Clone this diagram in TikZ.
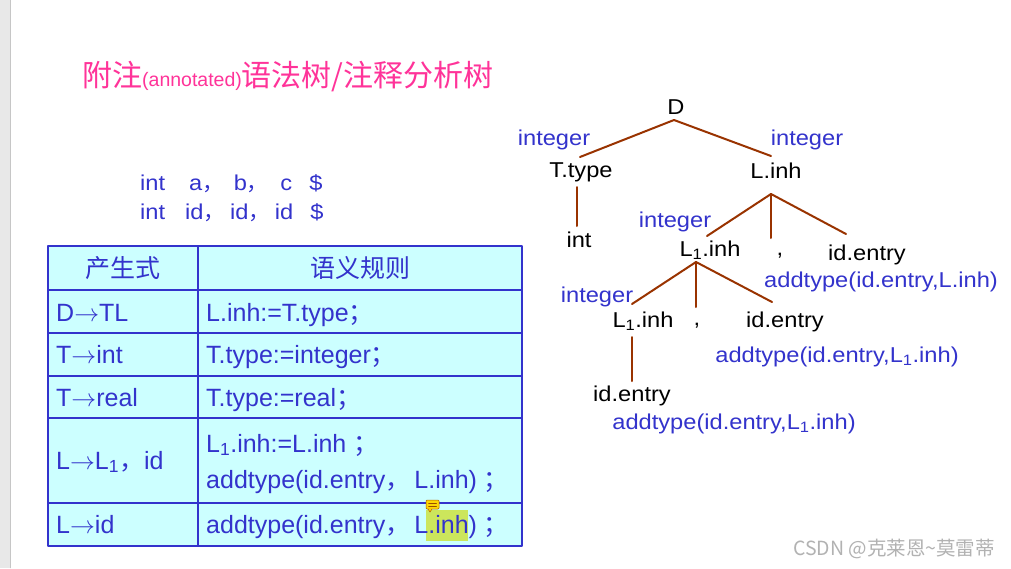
\documentclass[tikz,border=0pt]{standalone}
\usepackage{fontspec}
\setmainfont{Liberation Sans}
\newfontfamily\cjk{Noto Sans CJK SC}
\newfontfamily\wfam{Liberation Sans}[FakeStretch=1.1]
\definecolor{tblue}{HTML}{3333CC}
\definecolor{tpink}{HTML}{FF3399}
\definecolor{tbrown}{HTML}{993300}
\definecolor{tcyan}{HTML}{CCFFFF}
\definecolor{tmark}{HTML}{CCE65C}
\newcommand{\zc}{{\cjk ，}}
\newcommand{\zs}{{\cjk ；}}
\newcommand{\ar}{$\rightarrow$}
\newcommand{\Lone}{L\textsubscript{1}}
\tikzset{
  tree/.style={font={\wfam\fontsize{21.5}{25}\selectfont}, inner sep=0pt, anchor=base},
  anno/.style={tree, text=tblue},
  cell/.style={font={\fontsize{25}{30}\selectfont}, text=tblue, inner sep=0pt, anchor=base west},
  head/.style={font={\cjk\fontsize{25}{30}\selectfont}, text=tblue, inner sep=0pt},
  branch/.style={draw=tbrown, line width=2pt},
  tline/.style={draw=tblue, line width=1.3pt},
}
\begin{document}
\begin{tikzpicture}[x=1pt, y=-1pt, line join=round, line cap=round]
    \useasboundingbox (0,0) rectangle (1011,568);
    \fill[white] (0,0) rectangle (1011,568);
    \fill[gray!18] (0,0) rectangle (10,568);
    \draw[gray!45] (10.5,0) -- (10.5,568);

    % title and input
    \node[anchor=base west, text=tpink, inner sep=0pt] (title) at (82,86)
        {\cjk\fontsize{30}{33}\selectfont 附注{\rmfamily\fontsize{19.5}{22}\selectfont(annotated)}语法树/注释分析树};
    \node[tree, anchor=base west, text=tblue] (in1) at (140,190)
        {int\hspace{24pt}a\zc\hspace{10pt}b\zc\hspace{12pt}c\hspace{17pt}\$};
    \node[tree, anchor=base west, text=tblue] (in2) at (140,219)
        {int\hspace{20pt}id\zc\hspace{5pt}id\zc\hspace{5pt}id\hspace{17pt}\$};

    % table
    \fill[tcyan] (48,246) rectangle (522,546);
    \foreach \y in {290,333,376,418,503}
        \draw[tline] (48,\y) -- (522,\y);
    \draw[tline] (198,246) -- (198,546);
    \draw[draw=tblue, line width=2.4pt] (48,246) rectangle (522,546);
    \fill[tmark] (426,510) rectangle (468,541);

    \node[head] (h1) at (123,268) {产生式};
    \node[head] (h2) at (360,268) {语义规则};
    \foreach \y/\p/\r [count=\i] in {321/{D\ar TL}/{L.inh:=T.type\zs},
                                     363/{T\ar int}/{T.type:=integer\zs},
                                     406/{T\ar real}/{T.type:=real\zs}}{
        \node[cell] (p\i) at (56,\y) {\p};
        \node[cell] (r\i) at (206,\y) {\r};
    }
    \node[cell] (p4) at (56,469) {L\ar\Lone\zc id};
    \node[cell] (r4) at (206,452) {\Lone.inh:=L.inh \zs};
    \node[cell] (r4b) at (206,488) {addtype(id.entry\zc\hspace{4pt}L.inh) \zs};
    \node[cell] (p5) at (56,533) {L\ar id};
    \node[cell] (r5) at (206,533) {addtype(id.entry\zc\hspace{4pt}L.inh) \zs};
    \filldraw[fill=yellow!75!orange, draw=orange!70!black, line width=0.5pt, rounded corners=1pt]
        (426,500) rectangle (439,509);
    \filldraw[fill=yellow!75!orange, draw=orange!70!black, line width=0.5pt]
        (428,509) -- (430,512) -- (432,509);
    \draw[orange!60!black, line width=0.5pt] (428.5,503) -- (436.5,503) (428.5,506) -- (436.5,506);

    % annotated tree
    \node[tree] (D) at (676,114) {D};
    \node[anno] (iT) at (554,145) {integer};
    \node[anno] (iL) at (807,145) {integer};
    \node[tree] (Ttype) at (581,177) {T.type};
    \node[tree] (Linh) at (776,178) {L.inh};
    \node[tree] (int) at (579,247) {int};
    \node[anno] (iL1) at (675,227) {integer};
    \node[tree] (L1) at (710,256) {\Lone.inh};
    \node[tree] (cm1) at (780,255) {,};
    \node[tree] (ide1) at (867,260) {id.entry};
    \node[anno] (ad1) at (881,287) {addtype(id.entry,L.inh)};
    \node[anno] (iL2) at (597,302) {integer};
    \node[tree] (L1b) at (643,327) {\Lone.inh};
    \node[tree] (cm2) at (697,325) {,};
    \node[tree] (ide2) at (785,327) {id.entry};
    \node[anno] (ad2) at (837,362) {addtype(id.entry,\Lone.inh)};
    \node[tree] (ide3) at (632,401) {id.entry};
    \node[anno] (ad3) at (734,429) {addtype(id.entry,\Lone.inh)};

    \foreach \a/\ax/\ay/\b/\bx/\by in {D/-2/-6/Ttype/-1/20, D/-2/-6/Linh/-5/22,
            Ttype/-4/-10/int/-2/21, Linh/-5/-16/L1/-3/20, Linh/-5/-16/cm1/-9/17,
            Linh/-5/-16/ide1/-21/26, L1/-14/-6/L1b/-11/23, L1/-14/-6/cm2/-1/18,
            L1/-14/-6/ide2/-13/25, L1b/-11/-10/ide3/0/20}
        \draw[branch] ([shift={(\ax pt,\ay pt)}]\a.base) -- ([shift={(\bx pt,\by pt)}]\b.base);

    \node[anchor=base west, text=gray!60, inner sep=0pt, font={\cjk\fontsize{19.5}{22}\selectfont}] (mark) at (793,555)
        {CSDN @克莱恩\textasciitilde 莫雷蒂};
\end{tikzpicture}
\end{document}
